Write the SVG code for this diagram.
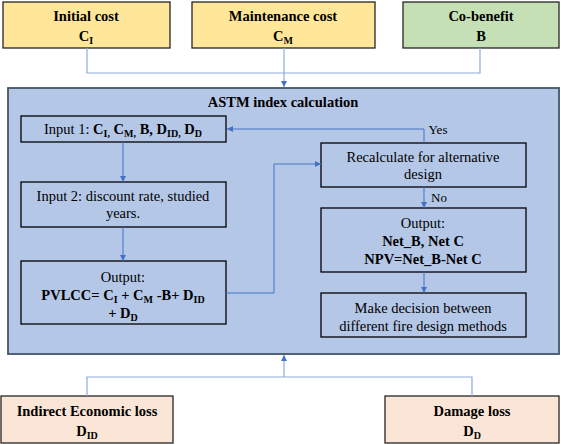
<svg xmlns="http://www.w3.org/2000/svg" width="561" height="445" viewBox="0 0 561 445">
<style>
text{font-size:14.5px;fill:#000;text-anchor:middle}
.b{font-weight:bold}
.s{font-size:10px}
.yel{fill:#FFE699;stroke:#262626;stroke-width:1.3}
.grn{fill:#C5E0B4;stroke:#262626;stroke-width:1.3}
.pch{fill:#FBE5D6;stroke:#262626;stroke-width:1.3}
.main{fill:#B4C7E7;stroke:#44546A;stroke-width:1.8}
.box{fill:#B4C7E7;stroke:#000;stroke-width:1.3}
.c{fill:none;stroke:#4472C4;stroke-width:1}
.co{fill:none;stroke:#8FAADC;stroke-width:1.2}
</style>
<defs>
<marker id="ah" markerUnits="userSpaceOnUse" markerWidth="7" markerHeight="7" refX="6" refY="3" orient="auto">
<path d="M0,0 L6,3 L0,6 z" fill="#4472C4"/>
</marker>
</defs>
<g font-family="Liberation Serif, serif">
<g id="main-box">
<rect class="main" x="8" y="88" width="551" height="266"/>
<text class="b" x="283" y="107">ASTM index calculation</text>
</g>
<g id="initial-cost">
<rect class="yel" x="3" y="2" width="167" height="46"/>
<text class="b" x="86" y="21">Initial cost</text>
<text class="b" x="86" y="41">C<tspan class="s" dy="3">I</tspan></text>
</g>
<g id="maintenance-cost">
<rect class="yel" x="192" y="2" width="183" height="46"/>
<text class="b" x="283" y="21">Maintenance cost</text>
<text class="b" x="283" y="41">C<tspan class="s" dy="3">M</tspan></text>
</g>
<g id="co-benefit">
<rect class="grn" x="403" y="2" width="156" height="46"/>
<text class="b" x="481" y="21">Co-benefit</text>
<text class="b" x="481" y="41">B</text>
</g>
<g id="indirect-loss">
<rect class="pch" x="1" y="396" width="172" height="47"/>
<text class="b" x="87" y="416">Indirect  Economic  loss</text>
<text class="b" x="87" y="436">D<tspan class="s" dy="3">ID</tspan></text>
</g>
<g id="damage-loss">
<rect class="pch" x="385" y="396" width="174" height="47"/>
<text class="b" x="472" y="416">Damage loss</text>
<text class="b" x="472" y="436">D<tspan class="s" dy="3">D</tspan></text>
</g>
<g id="input1">
<rect class="box" x="21" y="116" width="205" height="26"/>
<text x="123" y="134">Input 1:  <tspan class="b">C<tspan class="s" dy="3">I,</tspan><tspan dy="-3"> C</tspan><tspan class="s" dy="3">M,</tspan><tspan dy="-3"> B, D</tspan><tspan class="s" dy="3">ID,</tspan><tspan dy="-3"> D</tspan><tspan class="s" dy="3">D</tspan></tspan></text>
</g>
<g id="input2">
<rect class="box" x="21" y="182" width="205" height="45"/>
<text x="123" y="201">Input 2: discount rate, studied</text>
<text x="123" y="218">years.</text>
</g>
<g id="output1">
<rect class="box" x="21" y="261" width="205" height="63"/>
<text x="123" y="282">Output:</text>
<text class="b" x="123" y="300">PVLCC= C<tspan class="s" dy="3">I</tspan><tspan dy="-3"> + C</tspan><tspan class="s" dy="3">M</tspan><tspan dy="-3"> -B+ D</tspan><tspan class="s" dy="3">ID</tspan></text>
<text class="b" x="123" y="318">+ D<tspan class="s" dy="3">D</tspan></text>
</g>
<g id="recalculate">
<rect class="box" x="321" y="143" width="205" height="44"/>
<text x="423" y="162">Recalculate  for alternative</text>
<text x="423" y="179">design</text>
</g>
<g id="output2">
<rect class="box" x="321" y="208" width="205" height="64"/>
<text x="423" y="228">Output:</text>
<text class="b" x="423" y="246">Net_B, Net C</text>
<text class="b" x="423" y="264">NPV=Net_B-Net C</text>
</g>
<g id="decision">
<rect class="box" x="321" y="293" width="205" height="44"/>
<text x="423" y="313">Make decision between</text>
<text x="423" y="331">different fire design methods</text>
</g>
<g id="connectors">
<path class="co" d="M87,48 V73 H480 V48"/>
<path class="co" d="M284,48 V87" marker-end="url(#ah)"/>
<path class="co" d="M87,396 V377 H472 V396"/>
<path class="co" d="M284,377 V355" marker-end="url(#ah)"/>
<path class="c" d="M123,142 V182" marker-end="url(#ah)"/>
<path class="c" d="M123,227 V261" marker-end="url(#ah)"/>
<path class="c" d="M226,293 H274 V164 H321" marker-end="url(#ah)"/>
<path class="c" d="M424,143 V129 H227" marker-end="url(#ah)"/>
<path class="c" d="M424,187 V208" marker-end="url(#ah)"/>
<path class="c" d="M424,272 V293" marker-end="url(#ah)"/>
<text x="438" y="134" style="font-size:13px">Yes</text>
<text x="439" y="202" style="font-size:13px">No</text>
</g>
</g>
</svg>
